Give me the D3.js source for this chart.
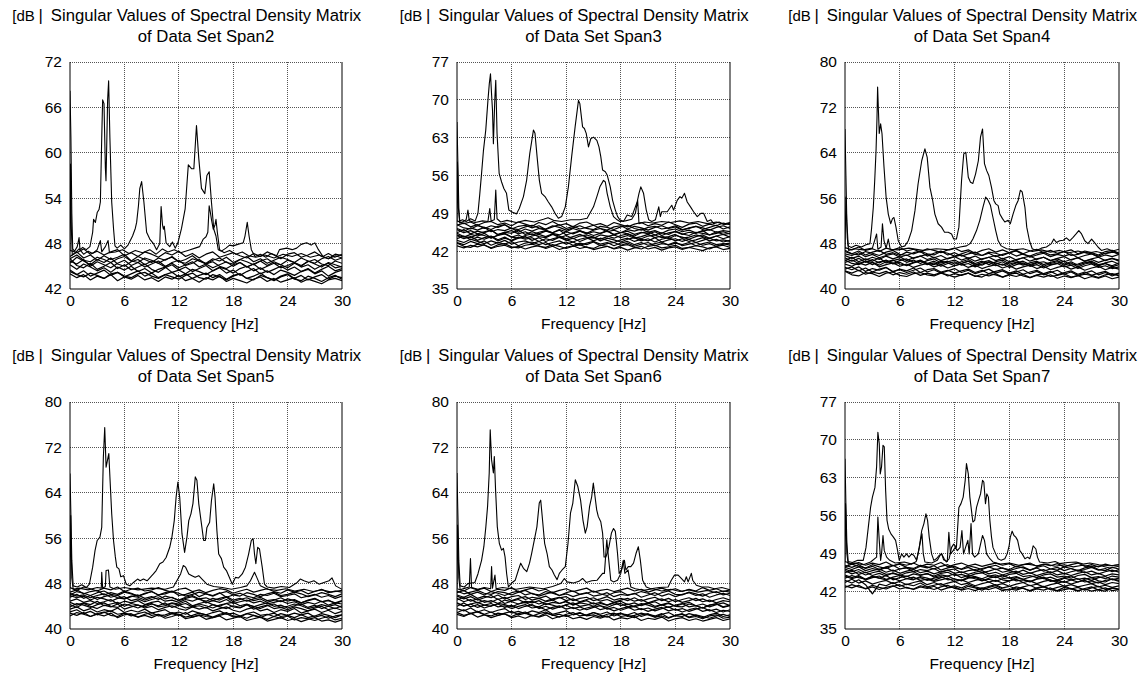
<!DOCTYPE html>
<html>
<head>
<meta charset="utf-8">
<script src="https://cdn.jsdelivr.net/npm/d3@7"></script>
<style>
  body { margin: 0; background: #fff; }
  svg text { font-family: Arial, "Liberation Sans", sans-serif; fill: #000; }
</style>
</head>
<body>
<svg id="chart" width="1148" height="677"></svg>
<script>
// ---- tick labels ----
var xTicks = [0, 6, 12, 18, 24, 30];
var span2YTicks = [42, 48, 54, 60, 66, 72];
var span3YTicks = [35, 42, 49, 56, 63, 70, 77];
var span4YTicks = [40, 48, 56, 64, 72, 80];
var span5YTicks = [40, 48, 56, 64, 72, 80];
var span6YTicks = [40, 48, 56, 64, 72, 80];
var span7YTicks = [35, 42, 49, 56, 63, 70, 77];

// frequencies of the lower singular values (Hz)
var noiseFreqs = [0,0.75,1.5,2.25,3,3.75,4.5,5.25,6,6.75,7.5,8.25,9,9.75,10.5,11.25,12,12.75,13.5,14.25,
  15,15.75,16.5,17.25,18,18.75,19.5,20.25,21,21.75,22.5,23.25,24,24.75,25.5,26.25,27,27.75,28.5,29.25,30];

// ---- Span2 ----
var span2Sv1 = [[0,68.2],[0.1,62],[0.2,52],[0.3,47.3],[0.5,47.0],[0.8,47.6],[1.0,48.8],[1.1,47.2],[1.4,47.5],[1.8,47.2],[2.2,47.6],[2.5,49.5],[2.6,51.2],[2.8,50.8],[3.0,52.1],[3.2,52.5],[3.35,53.5],[3.5,62],[3.6,67],[3.75,66.5],[3.9,58],[3.97,56.3],[4.05,61],[4.15,67],[4.26,69.5],[4.4,62],[4.6,53.5],[4.8,50],[4.96,47.7],[5.2,47.4],[5.6,47.8],[6.0,47.3],[6.4,47.8],[6.9,49],[7.2,50],[7.35,50.8],[7.55,53],[7.7,55.3],[7.9,56.2],[8.15,53.5],[8.45,49.5],[8.8,48.6],[9.2,48],[9.55,47.2],[9.9,48],[10.05,52.9],[10.2,50.5],[10.3,49.9],[10.4,50.3],[10.6,48.1],[11.0,47.6],[11.3,48.2],[11.6,47.4],[11.9,48.1],[12.3,50],[12.7,52.6],[13.05,58.4],[13.4,57.9],[13.66,57.9],[13.95,63.6],[14.2,59.3],[14.5,55.3],[14.87,54.6],[15.1,57],[15.35,57.5],[15.6,53.5],[15.86,49.9],[16.1,49],[16.35,47.2],[16.7,47],[17.2,47.4],[17.6,47.8],[18.0,47.7],[18.5,47.9],[19.1,48.1],[19.3,49],[19.55,50.8],[19.75,49],[20.0,47.2],[20.4,46.3],[21.0,46.6],[21.6,46.2],[22.2,46.7],[22.8,46.4],[23.1,47.2],[23.9,47.4],[24.5,47.2],[25.0,47.4],[25.5,47.9],[26.1,48.1],[26.6,47.8],[27.0,48.1],[27.4,47.2],[27.9,46.3],[28.5,46.7],[29.2,46.2],[30,46.6]];
var span2Sv2 = [[0,47],[0.05,58.5],[0.15,50],[0.25,46.5],[0.6,46.8],[1.0,47.3],[1.5,46.6],[2.0,47.0],[2.5,46.7],[3.0,47.2],[3.35,48.4],[3.5,46.9],[3.9,47.6],[4.2,48.4],[4.35,46.8],[5.0,46.9],[5.8,47.2],[6.5,46.7],[7.2,47.1],[8.0,46.8],[8.8,47.2],[9.5,46.6],[10.2,47.3],[10.8,46.9],[11.5,47.2],[12.2,46.8],[13.0,47.1],[13.8,47.4],[14.3,47.6],[14.7,48.6],[15.0,48.9],[15.2,49.5],[15.35,53],[15.5,52],[15.6,51.2],[15.8,49.9],[16.0,50.5],[16.1,51.2],[16.25,49.5],[16.5,47.2],[17.0,46.8],[17.6,47.1],[18.3,46.6],[19.0,46.9],[19.7,46.4],[20.5,46.2],[21.5,46.5],[22.5,46.1],[23.5,46.6],[24.5,46.3],[25.5,46.7],[26.5,46.2],[27.5,46.5],[28.5,46.0],[29.3,46.4],[30,46.1]];
var span2Noise = [
  [47.1,46.8,47.3,46.6,47.0,46.5,46.9,47.2,46.4,46.8,46.3,46.9,46.6,46.2,46.8,46.5,47.0,46.3,46.7,46.1,46.6,46.9,46.2,46.5,46.8,46.4,46.1,46.7,46.3,46.9,46.5,46.0,46.6,46.8,46.2,46.5,46.9,46.3,46.0,46.6,46.4],
  [46.3,46.9,46.1,46.5,45.8,46.4,45.9,46.2,46.6,45.7,46.3,45.9,45.5,46.1,45.8,46.3,45.6,45.9,46.4,45.7,45.4,46.0,45.7,46.2,45.5,45.9,46.3,45.6,46.0,45.4,45.8,46.2,45.9,45.5,46.1,45.7,45.4,46.0,46.3,45.8,46.1],
  [45.4,46.2,45.7,45.2,45.9,45.5,46.1,45.3,45.0,45.6,45.9,45.2,45.7,45.4,44.9,45.5,45.8,45.1,45.4,45.9,45.3,44.8,45.2,45.6,45.0,45.5,44.9,45.3,45.7,45.1,45.6,45.2,44.8,45.4,45.0,45.7,45.3,44.9,45.5,45.2,44.9],
  [46.0,45.1,44.8,45.4,44.6,45.0,45.5,44.7,45.2,44.5,44.9,45.3,44.6,44.2,44.8,45.2,44.5,44.9,44.3,44.7,45.1,44.4,44.9,44.6,44.1,44.7,45.0,44.4,44.8,44.2,44.6,45.0,44.5,44.9,44.3,44.7,44.1,44.6,45.0,44.4,44.7],
  [45.2,44.6,45.3,44.9,44.4,44.8,44.2,44.9,44.5,45.0,44.3,44.7,44.1,44.6,44.9,44.2,44.5,44.0,44.6,44.3,43.9,44.4,44.8,44.1,44.5,43.8,44.3,44.7,44.0,44.4,43.9,44.5,44.2,43.8,44.3,44.6,44.0,44.4,43.7,44.2,44.5],
  [44.5,43.9,44.4,43.7,44.1,44.5,43.8,44.2,43.6,44.0,44.4,43.7,44.1,43.5,43.9,44.2,43.6,44.0,43.4,43.8,44.1,43.5,43.9,43.3,43.8,44.0,43.4,43.7,44.1,43.5,43.2,43.7,44.0,43.4,43.8,43.2,43.6,43.9,43.3,43.7,43.5],
  [45.7,45.3,45.9,45.0,45.6,45.2,44.8,45.4,45.8,45.1,45.5,44.9,45.3,45.7,45.0,45.4,44.8,45.2,45.6,44.9,45.3,45.6,45.0,44.7,45.2,45.5,44.9,45.3,44.6,45.0,45.4,44.8,45.1,45.5,44.9,45.2,44.6,45.1,45.4,44.8,45.0],
  [44.0,43.5,43.9,43.2,43.7,43.4,43.9,43.1,43.6,43.3,43.8,43.2,43.5,43.0,43.6,43.3,43.8,43.1,43.4,42.9,43.5,43.2,43.7,43.0,43.4,43.1,42.8,43.3,43.6,43.0,43.4,42.9,43.2,43.5,42.9,43.3,43.0,42.7,43.2,43.4,43.1],
  [46.0,46.5,45.8,45.6,46.2,45.9,45.5,46.0,46.3,45.7,45.5,46.1,45.8,45.4,45.9,46.2,45.6,45.4,46.0,45.7,45.3,45.8,46.1,45.5,45.3,45.9,45.6,45.2,45.7,46.0,45.4,45.2,45.8,45.5,45.1,45.6,45.9,45.3,45.1,45.7,45.4],
  [44.3,43.9,43.6,44.1,43.8,43.4,44.0,44.2,43.7,43.5,44.0,44.2,43.7,43.4,43.9,43.6,43.3,43.8,44.1,43.5,43.3,43.9,43.6,43.2,43.7,44.0,43.4,43.2,43.8,43.5,43.1,43.6,43.9,43.3,43.1,43.7,43.4,43.0,43.5,43.8,43.3]
];

// ---- Span3 ----
var span3Sv1 = [[0,65.9],[0.1,58],[0.2,50],[0.3,47.6],[0.6,47.8],[1.0,47.5],[1.5,48.0],[2.0,47.6],[2.3,49],[2.5,52.5],[2.7,56.4],[2.9,60.5],[3.16,64.4],[3.4,69.9],[3.55,73],[3.68,74.8],[3.8,71],[3.9,68.1],[4.0,61.9],[4.15,69.9],[4.26,73.6],[4.4,63.8],[4.63,56.4],[4.9,54.8],[5.15,53.6],[5.44,52.7],[5.7,49.6],[6.1,49.2],[6.54,48.9],[6.84,49.9],[7.3,52.1],[7.65,55.1],[8.0,60.1],[8.4,64.4],[8.57,63.8],[8.8,59.5],[9.05,55.1],[9.3,52.7],[9.67,52.1],[10.04,51.1],[10.4,50.2],[10.77,49],[11.14,48.1],[11.5,48.4],[11.9,50.2],[12.24,53.9],[12.6,59.5],[12.98,65],[13.35,69.9],[13.5,69.3],[13.8,65],[14.0,64.7],[14.2,63.8],[14.45,61.3],[14.7,62.8],[15.0,63.1],[15.37,62.5],[15.6,61.3],[15.8,59.5],[16.0,57],[16.3,56.7],[16.5,56.1],[16.84,53.9],[17.1,51.4],[17.4,49.6],[17.65,48.4],[17.9,47.8],[18.3,47.5],[18.7,48.7],[19.2,48.4],[19.6,50.2],[19.8,51.1],[20.0,52.7],[20.2,53.9],[20.5,52.7],[20.8,49.6],[21.07,47.8],[21.4,47.5],[21.8,47.8],[22.17,50.2],[22.35,48.4],[22.5,49.3],[23.1,49.3],[23.6,50.5],[23.8,49.6],[24.2,51.4],[24.5,52.1],[24.7,51.8],[25.0,52.7],[25.3,51.1],[25.66,50.2],[26.0,49.3],[26.4,48.4],[26.8,49],[27.1,49],[27.5,47.5],[27.9,47.8],[28.2,47.1],[28.8,47.4],[29.4,46.9],[30,47.2]];
var span3Sv2 = [[0,47.5],[0.05,58.5],[0.15,50],[0.3,47.2],[0.7,47.5],[1.0,47.8],[1.2,49.6],[1.35,47.6],[2.0,47.3],[2.8,47.6],[3.4,47.5],[3.6,49.9],[3.75,47.6],[4.1,47.8],[4.26,53.3],[4.4,48],[4.8,47.4],[5.5,47.7],[6.5,47.3],[7.5,47.7],[8.5,47.4],[9.5,47.9],[10.0,48.2],[10.6,47.7],[11.5,47.5],[12.5,47.8],[13.5,47.8],[14.3,48.1],[15.0,50.2],[15.37,52.1],[15.7,53.9],[16.1,55.1],[16.3,54.8],[16.5,52.7],[16.84,50.2],[17.2,48.4],[17.6,47.8],[17.9,47.5],[18.5,47.6],[19.2,47.9],[19.6,49],[19.85,51.4],[20.0,47.1],[20.6,47.4],[21.5,47.2],[22.5,47.5],[23.5,47.3],[24.5,47.6],[25.5,47.2],[26.5,47.5],[27.5,47.1],[28.5,47.4],[29.3,47.0],[30,47.3]];
var span3Noise = [
  [47.6,47.1,47.4,46.8,47.3,47.5,46.9,47.2,46.7,47.4,47.0,46.6,47.3,46.9,47.5,46.8,47.1,46.5,47.2,47.4,46.8,47.1,46.6,47.3,46.9,46.5,47.0,47.3,46.7,47.1,46.8,47.4,46.9,46.4,47.0,47.2,46.6,47.0,46.7,47.2,46.9],
  [46.8,47.2,46.5,46.9,46.2,46.7,46.4,46.9,46.1,46.6,46.8,46.3,46.7,46.0,46.5,46.9,46.2,46.6,46.1,46.4,46.8,46.2,45.9,46.5,46.7,46.1,46.6,46.3,45.9,46.4,46.7,46.2,46.5,45.9,46.3,46.6,46.0,46.4,46.8,46.1,46.5],
  [46.2,45.7,46.3,45.9,46.4,45.6,46.0,45.8,46.3,45.5,46.1,45.7,46.2,45.9,45.4,46.0,45.6,46.2,45.8,45.3,45.9,46.2,45.6,45.9,45.4,46.0,45.7,46.1,45.5,45.8,45.3,45.9,46.1,45.6,45.9,45.4,45.7,46.0,45.5,45.8,45.6],
  [45.4,46.0,45.2,45.7,45.4,45.9,45.1,45.5,45.8,45.2,45.6,45.0,45.5,45.8,45.3,45.0,45.6,45.2,45.7,45.4,44.9,45.3,45.7,45.1,45.5,45.2,44.8,45.4,45.6,45.0,45.4,45.1,45.7,45.2,44.9,45.5,45.3,45.0,45.6,45.1,45.3],
  [45.0,44.6,45.1,44.8,45.3,44.5,44.9,45.2,44.6,45.0,44.4,44.8,45.1,44.7,45.2,44.5,44.9,44.3,44.8,45.0,44.6,44.2,44.7,45.0,44.5,44.9,44.4,44.7,45.1,44.5,44.8,44.3,44.9,44.6,44.2,44.7,45.0,44.4,44.8,44.3,44.7],
  [44.3,44.8,44.1,44.6,44.2,44.7,43.9,44.4,44.0,44.6,44.2,44.5,43.8,44.3,44.0,44.6,44.1,43.7,44.2,44.5,43.9,44.4,44.0,43.6,44.1,44.4,43.8,44.2,43.9,44.5,43.7,44.1,44.3,43.8,44.2,43.6,44.0,44.4,43.9,44.1,43.8],
  [46.0,45.4,45.8,45.2,45.6,45.9,45.0,45.5,45.3,45.9,45.1,45.6,45.2,45.7,45.4,45.9,45.0,45.4,45.7,45.2,45.6,45.3,45.8,45.0,45.4,45.7,45.1,45.5,45.2,45.6,44.9,45.4,45.6,45.1,45.5,45.3,45.8,45.0,45.3,45.6,45.2],
  [43.6,43.2,43.8,43.4,43.9,43.1,43.6,43.3,43.8,43.0,43.5,43.7,43.2,43.6,42.9,43.4,43.7,43.1,43.5,43.2,43.7,43.0,43.4,43.6,43.1,43.5,42.9,43.3,43.6,43.0,43.4,43.2,43.7,43.0,43.3,43.6,43.1,43.4,42.9,43.3,43.5],
  [43.0,42.6,43.1,42.8,43.2,42.5,42.9,43.1,42.6,42.9,42.4,42.8,43.0,42.5,42.9,42.3,42.7,43.0,42.5,42.8,42.3,42.6,42.9,42.4,42.7,42.2,42.6,42.9,42.4,42.7,42.2,42.6,42.8,42.3,42.7,42.4,42.1,42.6,42.8,42.3,42.5],
  [44.9,44.3,44.7,44.0,44.5,44.8,44.1,44.6,43.9,44.4,44.7,44.0,44.5,43.8,44.3,44.6,44.0,44.4,43.8,44.3,44.6,43.9,44.4,44.1,43.7,44.2,44.5,43.9,44.3,43.7,44.2,44.5,43.9,44.3,43.8,44.1,44.5,43.9,44.2,43.7,44.0],
  [44.0,43.6,44.2,43.8,43.4,43.9,43.5,44.0,43.3,43.7,43.9,43.4,43.8,43.2,43.6,43.9,43.3,43.7,43.1,43.5,43.8,43.3,43.6,43.0,43.5,43.8,43.2,43.6,43.1,43.4,43.7,43.1,43.5,43.2,43.6,43.0,43.4,43.7,43.2,43.4,43.1],
  [46.9,46.3,46.1,46.7,46.4,46.0,46.6,46.9,46.2,46.0,46.5,46.8,46.3,46.1,46.7,46.4,45.9,46.3,46.7,46.2,46.0,46.6,46.4,46.0,46.5,46.8,46.2,45.9,46.4,46.6,46.1,46.3,46.7,46.0,46.2,46.6,46.3,45.9,46.4,46.7,46.2],
  [45.3,44.7,44.5,45.1,44.9,44.4,45.0,45.3,44.6,44.4,44.9,45.2,44.7,44.5,45.1,44.8,44.3,44.7,45.1,44.6,44.4,45.0,44.8,44.4,44.9,45.2,44.6,44.3,44.8,45.0,44.5,44.7,45.1,44.4,44.6,45.0,44.7,44.3,44.8,45.1,44.6],
  [43.5,42.9,42.7,43.3,43.1,42.6,43.2,43.4,42.8,42.6,43.1,43.3,42.9,42.7,43.2,42.9,42.5,42.9,43.2,42.7,42.5,43.1,42.9,42.5,43.0,43.2,42.7,42.4,42.9,43.1,42.6,42.8,43.1,42.5,42.7,43.0,42.8,42.4,42.9,43.1,42.7]
];

// ---- Span4 ----
var span4Sv1 = [[0,68.2],[0.1,60],[0.2,52],[0.35,47.6],[0.7,47.3],[1.2,47.7],[1.8,47.4],[2.3,47.8],[2.73,48],[2.9,50.5],[3.1,54.4],[3.25,59],[3.4,64.4],[3.5,70],[3.57,75.6],[3.67,71],[3.75,67.4],[3.9,69.1],[4.05,67.4],[4.27,61.5],[4.5,56.2],[4.74,53.2],[5.0,51.5],[5.2,52.4],[5.36,52.6],[5.58,50.9],[5.83,48.5],[6.2,47.4],[6.56,47.6],[6.93,48.5],[7.3,50.3],[7.66,53.8],[8.0,58.5],[8.4,62.6],[8.75,64.7],[9.0,63.2],[9.3,57.9],[9.6,55.6],[9.84,53.2],[10.2,51.5],[10.57,50.9],[10.9,50],[11.3,50],[11.67,49.7],[11.9,48.8],[12.2,48.8],[12.47,50.9],[12.76,59.1],[13.0,63.8],[13.23,64.1],[13.5,59.7],[13.74,58.8],[14.0,58.6],[14.3,60.3],[14.6,62.6],[14.84,66.8],[15.06,68.2],[15.27,62.1],[15.5,60.9],[15.75,60],[16.04,57.9],[16.3,55.6],[16.5,55],[16.77,54.7],[16.95,53.2],[17.24,52.4],[17.5,51.8],[17.86,52.1],[18.1,51.5],[18.4,53.2],[18.7,54.7],[18.96,55.6],[19.2,57.4],[19.4,57.1],[19.7,54.4],[19.9,50.9],[20.2,48.5],[20.5,47.1],[20.96,46.8],[21.5,47.2],[22.05,47.4],[22.6,48],[22.86,48.8],[23.15,48.2],[23.5,48.5],[23.9,48.6],[24.24,49],[24.6,48.5],[24.97,49.1],[25.3,49.7],[25.6,50.3],[25.9,49.7],[26.25,48.5],[26.6,48],[27.0,48.8],[27.3,48.2],[27.7,47.4],[28.07,46.8],[28.7,47.1],[29.3,46.7],[30,47.0]];
var span4Sv2 = [[0,47],[0.1,56.2],[0.25,49],[0.4,46.8],[1.0,47.1],[2.0,46.9],[3.0,47.2],[3.46,49.7],[3.6,47.0],[3.95,47.4],[4.1,51.5],[4.27,48.5],[4.5,47.2],[4.74,48.8],[4.95,47.0],[5.8,46.9],[7.0,47.2],[8.5,46.8],[10.0,47.1],[11.5,46.9],[12.6,47.4],[13.3,47.6],[13.7,48],[14.0,48.8],[14.4,50.3],[14.76,52.1],[15.1,54.4],[15.4,56.2],[15.68,55.6],[15.93,54.7],[16.2,52.6],[16.5,50.3],[16.77,48.5],[17.1,47.6],[17.7,47.1],[18.5,46.9],[19.5,47.1],[20.5,46.6],[21.5,46.9],[22.5,46.5],[23.5,46.8],[24.5,46.4],[25.5,46.7],[26.5,46.3],[27.5,46.6],[28.5,46.2],[29.3,46.5],[30,46.3]];
var span4Noise = [
  [47.3,46.9,47.4,46.8,47.1,46.6,47.2,46.9,47.3,46.7,47.0,46.5,47.1,46.8,46.4,46.9,47.2,46.6,46.9,46.3,46.8,47.1,46.5,46.9,46.4,46.8,46.2,46.7,47.0,46.4,46.8,46.3,46.6,46.9,46.2,46.7,46.4,46.0,46.6,46.8,46.3],
  [46.6,46.2,46.7,46.0,46.5,46.8,46.1,46.4,45.9,46.5,46.2,46.6,45.8,46.3,46.7,46.0,46.4,45.8,46.2,46.5,45.9,46.3,45.7,46.1,46.4,45.8,46.2,45.6,46.0,46.3,45.7,46.1,45.8,46.2,45.5,45.9,46.2,45.6,46.0,45.7,46.1],
  [45.9,45.4,45.8,45.1,45.6,45.2,45.8,45.3,45.7,45.0,45.5,45.8,45.2,45.6,45.0,45.4,45.7,45.1,45.5,44.9,45.3,45.6,45.0,45.4,44.8,45.2,45.5,44.9,45.3,45.6,45.0,45.3,44.8,45.2,45.5,44.9,45.2,44.7,45.1,45.4,44.9],
  [45.0,45.6,44.8,45.3,44.9,45.5,44.6,45.0,45.3,44.7,45.1,44.5,45.0,45.3,44.6,44.9,44.4,44.8,45.2,44.5,44.9,44.3,44.8,45.1,44.4,44.7,44.2,44.6,44.9,44.3,44.7,45.0,44.4,44.8,44.2,44.6,44.9,44.3,44.5,44.1,44.6],
  [44.4,44.0,44.6,44.2,44.7,43.9,44.3,44.6,44.0,44.4,43.8,44.2,44.5,43.9,44.3,43.7,44.1,44.4,43.8,44.2,43.6,44.0,44.3,43.7,44.1,43.5,43.9,44.2,43.6,44.0,43.4,43.8,44.1,43.5,43.9,43.3,43.7,44.0,43.4,43.8,43.5],
  [43.8,43.4,43.9,43.1,43.6,43.3,43.8,43.0,43.5,43.2,43.7,42.9,43.4,43.6,43.0,43.3,42.8,43.2,43.5,42.9,43.3,42.7,43.1,43.4,42.8,43.2,42.6,43.0,43.3,42.7,43.1,42.5,42.9,43.2,42.6,43.0,42.4,42.8,43.1,42.5,42.8],
  [43.2,42.8,43.3,42.6,43.0,42.7,43.1,42.5,42.9,42.6,43.0,42.4,42.8,42.5,42.9,42.3,42.7,42.4,42.8,42.2,42.6,42.3,42.7,42.1,42.5,42.2,42.6,42.0,42.4,42.1,42.5,41.9,42.3,42.0,42.4,41.8,42.2,41.9,42.3,41.8,42.1],
  [46.2,45.9,46.4,45.7,46.1,45.5,45.9,46.2,45.6,46.0,45.4,45.8,46.1,45.5,45.9,45.3,45.7,46.0,45.4,45.8,45.2,45.6,45.9,45.3,45.7,45.1,45.5,45.8,45.2,45.6,45.0,45.4,45.7,45.1,45.5,44.9,45.3,45.6,45.0,45.4,45.1],
  [44.7,45.1,44.5,44.9,44.3,44.8,45.0,44.4,44.7,44.1,44.6,44.9,44.3,44.6,44.0,44.5,44.8,44.2,44.5,43.9,44.4,44.7,44.1,44.4,43.8,44.3,44.6,44.0,44.3,43.7,44.2,44.5,43.9,44.2,43.6,44.1,44.4,43.8,44.1,43.6,43.9],
  [43.5,43.9,43.2,43.7,43.0,43.5,43.8,43.1,43.4,42.9,43.3,43.7,43.0,43.4,42.8,43.2,43.6,42.9,43.3,42.7,43.1,43.5,42.8,43.2,42.6,43.0,43.4,42.7,43.1,42.5,42.9,43.3,42.6,43.0,42.4,42.8,43.2,42.5,42.9,42.3,42.7],
  [45.5,44.9,45.4,44.7,45.2,44.6,45.1,44.5,45.0,45.3,44.7,45.1,44.5,44.9,44.3,44.8,45.1,44.5,44.9,44.2,44.7,45.0,44.4,44.8,44.1,44.6,44.9,44.3,44.7,44.0,44.5,44.8,44.2,44.6,43.9,44.4,44.7,44.1,44.5,43.9,44.3],
  [46.8,46.2,46.0,46.6,46.3,45.9,46.5,46.8,46.1,45.9,46.4,46.7,46.2,46.0,46.6,46.3,45.8,46.2,46.6,46.1,45.9,46.5,46.3,45.9,46.4,46.7,46.1,45.8,46.3,46.5,46.0,46.2,46.6,45.9,46.1,46.5,46.2,45.8,46.3,46.6,46.1],
  [45.1,44.5,44.3,44.9,44.7,44.2,44.8,45.1,44.4,44.2,44.7,45.0,44.5,44.3,44.9,44.6,44.1,44.5,44.9,44.4,44.2,44.8,44.6,44.2,44.7,45.0,44.4,44.1,44.6,44.8,44.3,44.5,44.9,44.2,44.4,44.8,44.5,44.1,44.6,44.9,44.4],
  [43.1,42.5,42.3,42.9,42.7,42.2,42.8,43.0,42.4,42.2,42.7,42.9,42.5,42.3,42.8,42.5,42.1,42.5,42.8,42.3,42.1,42.7,42.5,42.1,42.6,42.8,42.3,42.0,42.5,42.7,42.2,42.4,42.7,42.1,42.3,42.6,42.4,42.0,42.5,42.7,42.3]
];

// ---- Span5 ----
var span5Sv1 = [[0,67.4],[0.1,60],[0.2,52],[0.35,47.6],[0.8,47.4],[1.3,47.8],[1.8,47.3],[2.14,47.9],[2.5,50.9],[2.76,53.8],[3.0,55.6],[3.3,56.2],[3.5,57.9],[3.68,70.3],[3.83,75.5],[3.98,68.5],[4.13,69.7],[4.28,70.9],[4.42,66.2],[4.6,60.3],[4.8,55.6],[5.0,52.7],[5.16,50.9],[5.4,50.6],[5.6,49.2],[5.9,49.4],[6.2,47.9],[6.6,47.6],[7.0,48.2],[7.45,48.8],[7.74,48.5],[8.1,48.8],[8.5,48.5],[8.85,49.1],[9.2,49.7],[9.5,50.3],[9.9,51.5],[10.25,51.8],[10.6,52.6],[11.0,54.4],[11.24,56.2],[11.5,59.1],[11.7,63.2],[11.9,65.9],[12.1,63.2],[12.35,56.8],[12.64,53.5],[12.9,56.2],[13.1,59.1],[13.34,60.3],[13.56,62.1],[13.82,66.8],[14.0,66.2],[14.2,62.1],[14.45,59.1],[14.74,55.6],[14.93,55.6],[15.1,57.9],[15.4,58.8],[15.6,62.6],[15.85,65.6],[16.0,63.2],[16.2,57.4],[16.4,53.2],[16.7,52.4],[16.95,50.9],[17.25,50.3],[17.5,49.4],[17.9,47.9],[18.25,49.1],[18.6,49],[19.0,49.7],[19.35,50.9],[19.7,53.2],[20.0,55.6],[20.2,55.9],[20.35,53.2],[20.5,51.5],[20.7,54.4],[20.9,54.1],[21.2,50.9],[21.45,47.9],[21.75,47.4],[22.5,47.2],[23.3,47.5],[24.2,47.3],[25.06,48.2],[25.4,48.8],[25.8,48.5],[26.35,48.2],[26.9,48.5],[27.46,47.9],[28.0,48.2],[28.57,48.5],[28.9,49],[29.3,47.6],[30,47]];
var span5Sv2 = [[0,47.2],[0.08,60],[0.2,49],[0.35,47.0],[1.0,47.2],[2.0,46.9],[3.0,47.3],[3.45,47.2],[3.5,50],[3.6,47.2],[3.9,47.5],[3.98,50.3],[4.24,50.4],[4.4,47.4],[5.0,47.0],[6.0,47.3],[7.5,46.9],[9.0,47.2],[10.5,47.0],[11.4,47.4],[12.2,49.7],[12.5,51.2],[12.75,50.9],[13.1,49.7],[13.45,49.4],[13.8,49.1],[14.2,49.4],[14.56,48.8],[15.1,47.9],[15.85,47.5],[16.8,47.3],[17.8,47.0],[18.8,47.3],[19.5,47.6],[19.9,48.5],[20.35,50],[20.6,49.1],[21.0,47.6],[21.8,47.0],[22.8,46.8],[23.8,47.1],[24.8,46.7],[25.8,47.0],[26.8,46.6],[27.8,46.9],[28.8,46.5],[30,46.8]];
var span5Noise = [
  [47.3,46.8,47.4,47.1,46.7,47.2,46.9,47.4,46.6,47.0,47.2,46.7,46.9,47.3,46.8,46.5,47.0,47.2,46.6,46.9,46.4,46.8,47.1,46.9,46.3,46.7,47.0,46.5,46.8,47.1,46.6,46.3,46.9,46.5,46.8,46.2,46.6,47.0,46.4,46.7,46.5],
  [46.5,46.9,46.2,46.6,46.8,46.0,46.4,46.1,46.7,46.3,45.8,46.2,46.6,46.0,46.4,46.7,45.9,46.1,46.5,45.7,46.2,45.9,46.4,45.6,46.0,46.3,45.8,45.5,46.1,45.9,46.3,45.7,45.9,46.2,45.5,45.8,46.1,45.6,45.9,45.4,45.8],
  [45.6,46.1,45.4,45.9,45.2,45.7,46.0,45.5,45.3,45.8,45.6,45.1,45.5,45.9,45.3,45.6,45.0,45.4,45.7,45.2,44.9,45.4,45.1,45.6,44.8,45.2,45.5,45.0,45.3,44.7,45.1,45.5,44.9,45.2,44.6,45.0,45.3,44.8,45.1,44.5,44.9],
  [44.9,45.3,44.7,45.0,44.5,44.8,45.2,44.4,44.9,44.6,45.0,44.3,44.7,44.9,44.2,44.6,44.4,44.9,44.1,44.5,44.8,44.3,44.0,44.5,44.7,44.1,44.4,43.9,44.3,44.6,44.0,44.2,43.7,44.1,44.4,43.8,44.2,43.6,44.0,44.3,43.8],
  [44.3,43.8,44.5,44.0,43.6,44.2,43.9,44.4,43.5,43.9,44.2,43.7,44.0,43.4,43.8,44.1,43.6,43.3,43.9,43.5,43.8,43.2,43.6,43.9,43.3,43.0,43.5,43.8,43.2,43.5,42.9,43.4,43.1,43.6,42.8,43.2,43.5,42.9,43.3,42.7,43.1],
  [43.5,43.9,43.2,43.6,43.0,43.4,43.1,43.7,42.9,43.3,43.0,43.5,42.8,43.1,43.4,42.7,43.0,42.6,43.2,42.8,42.5,42.9,43.2,42.6,42.8,42.3,42.7,43.0,42.4,42.6,42.2,42.7,42.4,42.0,42.5,42.8,42.1,42.4,41.9,42.3,42.5],
  [42.8,42.4,42.9,42.2,42.6,42.3,42.8,42.0,42.5,42.7,42.1,42.4,42.0,42.5,41.9,42.2,42.6,41.8,42.1,42.4,41.7,42.0,42.3,41.6,41.9,42.2,41.5,41.8,42.1,41.4,41.7,42.0,41.5,41.8,41.3,41.7,42.0,41.4,41.6,41.2,41.6],
  [45.9,45.5,45.8,45.1,45.6,45.3,44.9,45.4,45.7,45.0,45.3,44.8,45.2,45.5,44.9,45.1,44.7,45.2,44.9,45.4,44.6,45.0,44.7,45.2,44.5,44.8,45.1,44.6,44.9,44.4,44.7,45.0,44.5,44.8,44.3,44.7,44.4,44.9,44.2,44.6,44.4],
  [44.7,44.2,44.6,44.3,44.9,44.1,44.4,44.7,44.0,44.5,44.2,43.9,44.4,44.1,44.6,43.8,44.2,44.5,43.9,44.1,43.7,44.3,43.9,43.6,44.1,43.8,44.3,43.5,43.9,44.2,43.6,43.8,43.4,43.9,43.6,43.2,43.7,44.0,43.4,43.7,43.3],
  [46.3,45.8,46.0,45.5,45.9,46.2,45.6,45.9,45.3,45.7,46.0,45.4,45.7,45.2,45.8,45.5,45.1,45.6,45.9,45.3,45.5,45.0,45.4,45.7,45.1,45.4,44.9,45.3,45.6,45.0,45.2,44.8,45.3,45.0,44.6,45.1,45.4,44.8,45.0,44.6,45.0],
  [43.0,43.4,42.7,43.1,42.5,42.9,43.2,42.6,42.8,42.3,42.7,43.0,42.4,42.6,42.2,42.7,42.4,42.9,42.1,42.5,42.2,42.0,42.4,42.7,42.1,42.3,41.9,42.4,42.1,41.7,42.2,41.9,42.3,41.6,42.0,41.8,41.5,41.9,42.2,41.6,41.9],
  [46.0,46.6,46.3,45.9,46.4,46.7,46.1,45.9,46.5,46.2,45.8,46.3,46.6,46.0,46.2,46.6,46.3,45.8,46.1,46.5,46.2,45.8,46.3,46.6,46.0,45.8,46.4,46.1,45.7,46.2,46.5,45.9,46.1,46.5,46.2,45.7,46.0,46.4,46.1,45.7,46.2],
  [43.9,44.5,44.2,43.8,44.3,44.6,44.0,43.8,44.4,44.1,43.7,44.2,44.5,43.9,44.1,44.5,44.2,43.7,44.0,44.4,44.1,43.7,44.2,44.5,43.9,43.7,44.3,44.0,43.6,44.1,44.4,43.8,44.0,44.4,44.1,43.6,43.9,44.3,44.0,43.6,44.1],
  [42.3,42.9,42.6,42.2,42.7,43.0,42.4,42.2,42.8,42.5,42.1,42.6,42.9,42.3,42.5,42.9,42.6,42.1,42.4,42.8,42.5,42.1,42.6,42.9,42.3,42.1,42.7,42.4,42.0,42.5,42.8,42.2,42.4,42.8,42.5,42.0,42.3,42.7,42.4,42.0,42.5]
];

// ---- Span6 ----
var span6Sv1 = [[0,67.5],[0.1,60],[0.2,52],[0.35,47.6],[0.8,47.4],[1.2,48.0],[1.96,48.2],[2.3,49.7],[2.7,52.1],[2.95,54.5],[3.17,58],[3.36,61.6],[3.54,67.5],[3.65,75.1],[3.8,69.8],[4.0,67.5],[4.1,70.4],[4.24,64.5],[4.43,58],[4.65,55.1],[4.9,53.9],[5.1,54.2],[5.28,52.7],[5.46,49.7],[5.65,47.4],[6.0,48.1],[6.4,48.6],[6.75,50.4],[7.0,51.6],[7.3,50.7],[7.67,50.1],[7.97,51.6],[8.2,53.3],[8.5,55.7],[8.78,58],[9.04,62.2],[9.2,62.7],[9.4,59.2],[9.63,55.1],[9.9,53.3],[10.15,51],[10.44,50.4],[10.7,49.5],[11.0,48.7],[11.25,49.8],[11.55,50.4],[11.9,51],[12.2,55.1],[12.47,60.4],[12.73,62.2],[13.0,66.3],[13.28,65.1],[13.58,62.7],[13.84,59.2],[14.1,56.9],[14.3,58],[14.57,61.6],[14.8,63.3],[14.98,65.7],[15.17,63.3],[15.35,61],[15.53,59.8],[15.8,58.9],[16.0,56.9],[16.16,52.7],[16.35,52.7],[16.5,53.3],[16.7,54.5],[16.97,56.9],[17.2,57.7],[17.4,57.2],[17.64,53.3],[17.82,49.8],[18.08,50.4],[18.4,52.1],[18.56,50.4],[18.82,51],[19.1,51],[19.4,51.6],[19.67,53.3],[19.93,54.5],[20.15,52.1],[20.4,48.6],[20.8,47.4],[21.3,47.1],[22.2,47.3],[23.2,47.4],[23.55,48.6],[23.9,49.5],[24.3,49.5],[24.65,48.9],[25.0,48.3],[25.2,49.2],[25.4,48.3],[25.75,49.8],[25.9,48.6],[26.3,47.7],[26.9,47.4],[27.6,47.4],[28.3,47.1],[29.1,47.3],[30,46.9]];
var span6Sv2 = [[0,47.2],[0.06,58.3],[0.2,49],[0.35,46.9],[0.9,47.2],[1.35,47.4],[1.48,52.4],[1.6,47.3],[2.3,47.0],[3.0,47.3],[3.7,47.1],[3.8,51],[3.9,47.2],[4.17,49.5],[4.3,47.1],[5.0,47.3],[6.5,47.0],[8.0,47.4],[9.5,47.1],[10.5,47.5],[11.4,48],[11.8,48.9],[12.1,48.3],[12.8,48.1],[13.4,48.4],[13.8,48.9],[14.2,48.2],[14.8,48.5],[15.4,48.6],[16.0,49.8],[16.2,49.8],[16.46,55.7],[16.64,52.7],[16.9,48.6],[17.2,48.3],[17.64,48.6],[18.0,49.8],[18.27,52.1],[18.45,49.8],[18.8,50.4],[19.1,47.4],[19.6,47.1],[20.5,46.8],[21.5,47.1],[22.5,46.7],[23.5,47.0],[24.5,46.6],[25.5,46.9],[26.5,46.5],[27.5,46.8],[28.5,46.4],[29.3,46.7],[30,46.5]];
var span6Noise = [
  [47.1,46.7,47.3,46.9,47.2,46.6,47.0,46.8,47.3,46.5,46.9,47.2,46.7,47.0,46.4,46.8,47.1,46.6,46.9,47.2,46.5,46.8,47.0,46.6,46.9,47.2,46.7,47.0,46.5,46.9,47.2,46.8,47.1,46.6,47.0,46.7,47.3,46.8,47.1,46.6,46.9],
  [46.4,46.8,46.1,46.5,46.0,46.6,46.3,45.9,46.4,46.7,46.0,46.3,45.8,46.2,46.5,45.9,46.2,45.7,46.1,46.4,45.8,46.0,46.4,45.7,46.1,45.9,46.3,45.6,46.0,46.4,45.8,46.2,45.7,46.1,46.4,45.9,46.2,45.6,46.0,46.3,45.9],
  [45.8,45.3,45.7,45.1,45.5,45.9,45.2,45.6,45.0,45.4,45.7,45.1,45.4,44.9,45.3,45.6,45.0,45.3,44.8,45.2,45.5,44.9,45.2,44.7,45.1,45.4,44.9,45.2,44.6,45.0,45.3,44.8,45.2,44.7,45.0,45.4,44.8,45.1,44.6,45.0,44.8],
  [45.1,45.6,44.9,45.3,44.7,45.0,44.5,45.1,44.8,44.4,44.9,44.6,45.0,44.3,44.7,44.5,44.9,44.2,44.6,44.4,44.0,44.5,44.2,44.7,44.1,44.4,43.9,44.3,44.6,44.0,44.3,43.8,44.2,44.5,43.9,44.1,43.7,44.2,44.4,43.8,44.1],
  [44.5,44.0,44.4,43.8,44.2,44.5,43.9,44.1,43.6,44.0,44.3,43.7,43.9,43.4,43.8,44.1,43.5,43.8,43.3,43.7,44.0,43.4,43.7,43.2,43.6,43.9,43.3,43.6,43.1,43.5,43.8,43.2,43.5,43.0,43.4,43.7,43.1,43.4,42.9,43.3,43.1],
  [43.6,43.2,43.7,43.0,43.4,42.9,43.3,43.6,42.8,43.1,42.7,43.2,42.9,43.4,42.6,42.9,43.2,42.5,42.8,42.4,42.9,42.6,43.0,42.3,42.7,42.5,42.9,42.2,42.6,42.3,42.7,42.0,42.4,42.7,42.1,42.5,42.2,41.9,42.3,42.6,42.2],
  [42.6,42.2,42.8,42.1,42.5,42.0,42.4,42.7,42.0,42.3,41.9,42.4,42.1,42.5,41.8,42.2,42.4,41.8,42.1,41.7,42.2,41.9,42.3,41.6,42.0,41.8,42.2,41.5,41.9,41.7,42.1,41.4,41.8,42.0,41.5,41.8,41.4,41.7,42.0,41.5,41.8],
  [46.0,45.6,46.1,45.4,45.8,45.5,46.0,45.3,45.7,45.9,45.2,45.6,45.4,45.8,45.1,45.5,45.7,45.0,45.4,45.6,45.0,45.3,45.7,45.1,45.4,45.0,45.5,44.9,45.3,45.6,45.0,45.4,44.8,45.2,45.5,45.0,45.3,44.8,45.2,45.5,45.1],
  [44.0,44.6,43.9,44.3,43.7,44.1,44.4,43.8,44.2,43.6,44.0,44.3,43.6,44.0,43.5,43.9,44.2,43.6,43.9,43.4,43.8,44.1,43.5,43.8,43.3,43.7,44.0,43.4,43.7,43.2,43.6,43.9,43.3,43.6,43.1,43.5,43.8,43.2,43.5,43.0,43.4],
  [42.9,43.4,42.7,43.1,42.6,43.0,42.4,42.8,43.1,42.5,42.8,42.3,42.7,43.0,42.4,42.6,42.2,42.6,42.9,42.3,42.5,42.1,42.6,42.8,42.2,42.4,42.0,42.5,42.7,42.1,42.3,41.9,42.4,42.6,42.0,42.2,41.8,42.3,42.5,41.9,42.1],
  [45.4,44.8,45.2,44.6,45.0,44.7,45.3,44.5,44.9,45.2,44.6,44.9,44.4,44.8,45.1,44.5,44.8,44.3,44.7,45.0,44.4,44.7,44.2,44.6,44.9,44.3,44.6,44.1,44.5,44.8,44.2,44.5,44.0,44.4,44.7,44.1,44.4,43.9,44.3,44.6,44.1],
  [46.7,46.2,46.5,46.8,46.3,46.1,46.6,46.4,46.0,46.5,46.8,46.2,46.0,46.6,46.3,45.9,46.4,46.7,46.1,46.3,46.7,46.2,45.9,46.4,46.6,46.0,46.2,46.6,46.3,45.9,46.4,46.7,46.1,46.0,46.5,46.2,45.8,46.3,46.6,46.0,46.3],
  [44.6,44.1,44.4,44.7,44.2,44.0,44.5,44.3,43.9,44.4,44.7,44.1,43.9,44.5,44.2,43.8,44.3,44.6,44.0,44.2,44.6,44.1,43.8,44.3,44.5,43.9,44.1,44.5,44.2,43.8,44.3,44.6,44.0,43.9,44.4,44.1,43.7,44.2,44.5,43.9,44.2],
  [42.9,42.4,42.7,43.0,42.5,42.3,42.8,42.6,42.2,42.7,43.0,42.4,42.2,42.8,42.5,42.1,42.6,42.9,42.3,42.5,42.9,42.4,42.1,42.6,42.8,42.2,42.4,42.8,42.5,42.1,42.6,42.9,42.3,42.2,42.7,42.4,42.0,42.5,42.8,42.2,42.5]
];

// ---- Span7 ----
var span7Sv1 = [[0,66.5],[0.1,58],[0.2,51],[0.35,47.5],[0.8,47.3],[1.4,47.7],[2.0,47.7],[2.3,50.1],[2.55,53.8],[2.8,57.5],[3.0,59.4],[3.28,61.2],[3.46,65],[3.6,71.4],[3.75,69.3],[3.86,63.7],[4.0,65],[4.16,69],[4.3,68.7],[4.45,60.6],[4.6,55.1],[4.78,53.5],[5.03,52.6],[5.3,52],[5.54,51.4],[5.76,49.5],[5.94,47.7],[6.2,48.9],[6.45,48.3],[6.74,48.9],[7.0,48.3],[7.3,48.9],[7.55,48.6],[7.84,47.7],[8.13,50.1],[8.4,53.2],[8.64,54.5],[8.86,56.3],[9.04,55.1],[9.22,52],[9.48,48.9],[9.73,47.7],[10.0,48],[10.3,48.6],[10.57,48.9],[10.86,48],[11.1,47.4],[11.4,48],[11.67,50.1],[11.9,50.7],[12.2,50.1],[12.47,57.5],[12.7,58.2],[12.94,59.4],[13.16,62.5],[13.3,65.6],[13.5,63.7],[13.67,59.4],[13.85,56.9],[14.0,54.8],[14.2,55.1],[14.4,57.5],[14.62,58.8],[14.84,60],[15.06,62.5],[15.2,62.2],[15.38,58.2],[15.53,60],[15.7,59.4],[15.86,55.1],[16.04,52],[16.2,50.1],[16.5,48.9],[16.77,48],[17.1,47.7],[17.5,48],[17.75,48.9],[17.97,50.4],[18.1,52],[18.3,53.1],[18.5,52.3],[18.7,52],[18.9,51.4],[19.14,49.5],[19.4,48.9],[19.7,48],[20.0,48.3],[20.23,48],[20.4,48.9],[20.6,50.4],[20.9,49.8],[21.07,48.3],[21.3,47.4],[22.2,47.2],[23.0,47.5],[23.5,47.1],[24.4,47.3],[25.3,47.4],[26.1,47.0],[26.8,47.2],[27.8,46.9],[29,46.7],[30,46.9]];
var span7Sv2 = [[0,47.3],[0.06,58.2],[0.2,49],[0.35,47.0],[1.0,47.2],[2.0,46.9],[2.8,47.4],[3.46,48.3],[3.6,55.7],[3.75,51.4],[3.9,47.7],[4.0,48.9],[4.16,52.3],[4.3,49.5],[4.56,48.3],[4.9,47.7],[5.5,47.2],[6.5,47.4],[7.3,47.0],[7.8,47.5],[8.0,48.9],[8.28,51.4],[8.43,52.6],[8.57,48.9],[8.75,47.4],[9.5,47.2],[10.1,47.7],[10.4,48.6],[10.57,49],[10.8,47.8],[11.2,47.5],[11.37,52.9],[11.55,48.9],[11.84,49.5],[12.07,50.1],[12.3,49.5],[12.6,50.1],[12.8,53.2],[12.98,48.9],[13.2,50.1],[13.45,51.4],[13.6,48.9],[13.8,54.5],[13.96,48.9],[14.2,48.3],[14.6,48.9],[14.84,50.7],[15.06,52.3],[15.27,51.4],[15.5,48.9],[15.86,48],[16.2,47.4],[17.0,47.0],[18.0,47.2],[19.0,46.8],[20.0,47.0],[21.0,46.7],[22.0,47.0],[23.0,46.6],[24.0,46.9],[25.0,46.5],[26.0,46.8],[27.0,46.4],[28.0,46.7],[29.0,46.3],[30,46.6]];
var span7Noise = [
  [47.5,47.0,47.3,46.8,47.2,46.9,47.4,46.7,47.1,46.8,47.2,46.6,47.0,46.8,47.3,46.5,46.9,47.2,46.7,47.0,46.6,46.9,47.2,46.8,47.1,46.5,46.9,47.2,46.6,47.0,46.7,47.1,46.5,46.9,47.2,46.6,46.9,46.5,47.0,46.7,46.9],
  [46.8,46.4,46.9,46.2,46.6,46.0,46.5,46.8,46.1,46.4,46.0,46.6,46.3,46.7,45.9,46.3,46.6,46.0,46.4,45.8,46.2,46.5,46.0,46.3,45.8,46.2,46.5,45.9,46.3,45.7,46.1,46.4,45.8,46.2,45.7,46.0,46.4,45.9,46.2,45.6,46.0],
  [46.1,45.6,46.0,45.4,45.8,46.1,45.5,45.9,45.3,45.7,46.0,45.4,45.7,45.2,45.6,45.9,45.3,45.6,45.1,45.5,45.8,45.2,45.5,45.0,45.4,45.7,45.1,45.4,44.9,45.3,45.6,45.0,45.3,44.9,45.3,45.6,45.0,45.3,44.8,45.2,45.0],
  [45.4,45.9,45.1,45.5,44.9,45.3,44.8,45.4,45.0,44.7,45.2,44.9,45.3,44.6,45.0,44.8,45.2,44.5,44.9,44.7,44.3,44.8,44.5,45.0,44.4,44.7,44.2,44.6,44.9,44.3,44.6,44.1,44.5,44.8,44.2,44.4,44.0,44.5,44.7,44.1,44.4],
  [44.8,44.3,44.7,44.1,44.5,44.8,44.2,44.4,43.9,44.3,44.6,44.0,44.2,43.8,44.1,44.4,43.8,44.1,43.6,44.0,44.3,43.7,44.0,43.5,43.9,44.2,43.6,43.9,43.4,43.8,44.1,43.5,43.8,43.3,43.7,44.0,43.4,43.7,43.2,43.6,43.4],
  [44.0,43.5,44.1,43.2,41.5,43.3,43.0,43.6,42.9,43.3,43.0,43.5,42.8,43.1,43.4,42.7,43.0,42.6,43.2,42.8,42.5,42.9,43.2,42.6,42.9,42.4,42.8,43.1,42.5,42.8,42.3,42.7,43.0,42.4,42.7,42.2,42.6,42.9,42.3,42.6,42.4],
  [43.0,42.6,43.1,42.4,42.8,42.3,42.7,43.0,42.4,42.7,42.3,42.8,42.5,42.9,42.2,42.6,42.8,42.2,42.5,42.1,42.6,42.3,42.7,42.1,42.4,42.2,42.6,42.0,42.4,42.2,42.6,42.0,42.3,42.5,42.1,42.4,42.0,42.3,42.6,42.1,42.3],
  [46.4,46.0,46.5,45.8,46.2,45.9,46.4,45.7,46.1,46.3,45.6,46.0,45.8,46.2,45.5,45.9,46.1,45.4,45.8,46.0,45.4,45.7,46.1,45.5,45.8,45.4,45.9,45.3,45.7,46.0,45.4,45.8,45.2,45.6,45.9,45.4,45.7,45.2,45.6,45.9,45.5],
  [43.6,44.2,43.5,43.9,43.3,43.7,44.0,43.4,43.8,43.2,43.6,43.9,43.2,43.6,43.1,43.5,43.8,43.2,43.5,43.0,43.4,43.7,43.1,43.4,42.9,43.3,43.6,43.0,43.3,42.8,43.2,43.5,42.9,43.2,42.8,43.1,43.4,42.8,43.1,42.7,43.0],
  [45.0,44.5,44.9,44.2,44.7,44.4,44.9,44.1,44.5,44.8,44.2,44.5,44.0,44.4,44.7,44.1,44.3,43.9,44.4,44.6,44.0,44.2,43.8,44.3,44.5,43.9,44.1,43.7,44.2,44.4,43.8,44.0,43.6,44.1,44.3,43.7,43.9,43.5,44.0,44.2,43.8],
  [45.8,45.2,45.6,45.0,45.4,45.7,45.1,45.3,44.9,45.4,45.6,45.0,45.2,44.8,45.3,45.5,44.9,45.1,44.7,45.2,45.4,44.8,45.0,44.6,45.1,45.3,44.7,44.9,44.5,45.0,45.2,44.6,44.8,44.4,44.9,45.1,44.5,44.7,44.3,44.8,44.6],
  [46.5,47.0,46.6,46.3,46.9,46.5,46.2,46.7,47.0,46.4,46.2,46.8,46.5,46.1,46.6,46.9,46.3,46.1,46.7,46.4,46.0,46.5,46.8,46.2,46.0,46.6,46.3,45.9,46.4,46.7,46.1,45.9,46.5,46.2,45.8,46.3,46.6,46.0,45.8,46.4,46.1],
  [44.4,44.9,44.5,44.2,44.8,44.4,44.1,44.6,44.9,44.3,44.1,44.7,44.4,44.0,44.5,44.8,44.2,44.0,44.6,44.3,43.9,44.4,44.7,44.1,43.9,44.5,44.2,43.8,44.3,44.6,44.0,43.8,44.4,44.1,43.7,44.2,44.5,43.9,43.7,44.3,44.0],
  [42.7,43.2,42.8,42.5,43.1,42.7,42.4,42.9,43.2,42.6,42.4,43.0,42.7,42.3,42.8,43.1,42.5,42.3,42.9,42.6,42.2,42.7,43.0,42.4,42.2,42.8,42.5,42.1,42.6,42.9,42.3,42.1,42.7,42.4,42.0,42.5,42.8,42.2,42.0,42.6,42.3]
];

var panels = [
  {name: 'Span2', yTicks: span2YTicks, sv1: span2Sv1, sv2: span2Sv2, noise: span2Noise},
  {name: 'Span3', yTicks: span3YTicks, sv1: span3Sv1, sv2: span3Sv2, noise: span3Noise},
  {name: 'Span4', yTicks: span4YTicks, sv1: span4Sv1, sv2: span4Sv2, noise: span4Noise},
  {name: 'Span5', yTicks: span5YTicks, sv1: span5Sv1, sv2: span5Sv2, noise: span5Noise},
  {name: 'Span6', yTicks: span6YTicks, sv1: span6Sv1, sv2: span6Sv2, noise: span6Noise},
  {name: 'Span7', yTicks: span7YTicks, sv1: span7Sv1, sv2: span7Sv2, noise: span7Noise}
];

// panel placement in the 3 x 2 grid
var colLeft = [70, 457, 845],
    colWidth = [272, 273, 274],
    rowTop = [62, 402],
    plotHeight = 227;

var svg = d3.select("#chart");

function drawPanel(p, i) {
  var left = colLeft[i % 3],
      width = colWidth[i % 3],
      top = rowTop[Math.floor(i / 3)],
      height = plotHeight;

  var g = svg.append("g")
    .attr("transform", "translate(" + left + "," + top + ")");

  var x = d3.scaleLinear().domain([0, 30]).range([0, width]);
  var y = d3.scaleLinear()
    .domain([p.yTicks[0], p.yTicks[p.yTicks.length - 1]])
    .range([height, 0]);

  // title, two lines
  var t1 = g.append("text")
    .attr("x", width / 2)
    .attr("y", -41.5)
    .style("text-anchor", "middle")
    .style("font-size", "16.7px")
    .text("Singular Values of Spectral Density Matrix");
  var start = t1.node().getBBox().x;
  g.append("text")
    .attr("x", start - 8)
    .attr("y", -41.5)
    .style("text-anchor", "end")
    .style("font-size", "16.7px")
    .text("|");
  g.append("text")
    .attr("x", start - 16)
    .attr("y", -41.5)
    .style("text-anchor", "end")
    .style("font-size", "15px")
    .text("[dB");
  g.append("text")
    .attr("x", width / 2)
    .attr("y", -20.5)
    .style("text-anchor", "middle")
    .style("font-size", "16.7px")
    .text("of Data Set " + p.name);

  // grid lines
  g.append("g")
    .attr("class", "grid")
    .selectAll("line.h")
    .data(p.yTicks.slice(1))
    .enter().append("line")
      .attr("x1", 0).attr("x2", width)
      .attr("y1", function(d) { return y(d); })
      .attr("y2", function(d) { return y(d); });
  g.select(".grid")
    .selectAll("line.v")
    .data(xTicks.slice(1, -1))
    .enter().append("line")
      .attr("class", "v")
      .attr("y1", 0).attr("y2", height)
      .attr("x1", function(d) { return x(d); })
      .attr("x2", function(d) { return x(d); });
  g.selectAll(".grid line")
    .style("stroke", "#555")
    .style("stroke-width", 1)
    .style("stroke-dasharray", "1,1")
    .attr("shape-rendering", "crispEdges");

  // clip curves to the plot box
  var clipId = "clip" + i;
  g.append("clipPath").attr("id", clipId)
    .append("rect").attr("width", width).attr("height", height);

  var line = d3.line()
    .x(function(d) { return x(d[0]); })
    .y(function(d) { return y(d[1]); });

  var curves = g.append("g").attr("clip-path", "url(#" + clipId + ")");

  var noiseLines = p.noise.map(function(vals) {
    return vals.map(function(v, k) { return [noiseFreqs[k], v]; })
      .filter(function(d) { return d[0] !== undefined; });
  });

  curves.selectAll("path.noise")
    .data(noiseLines)
    .enter().append("path")
      .attr("class", "noise")
      .attr("d", line)
      .style("stroke-width", 1.2);
  curves.append("path").datum(p.sv2).attr("d", line).style("stroke-width", 1.1);
  curves.append("path").datum(p.sv1).attr("d", line).style("stroke-width", 1.1);
  curves.selectAll("path")
    .style("fill", "none")
    .style("stroke", "#000")
    .style("stroke-linejoin", "round");

  // axes: left, bottom and right frame lines, no tick marks
  var yAxis = g.append("g")
    .call(d3.axisLeft(y).tickValues(p.yTicks).tickSize(0).tickPadding(8));
  var xAxis = g.append("g")
    .attr("transform", "translate(0," + height + ")")
    .call(d3.axisBottom(x).tickValues(xTicks).tickSize(0).tickPadding(6));
  g.append("line")
    .attr("x1", width).attr("x2", width)
    .attr("y1", 0).attr("y2", height)
    .style("stroke", "#000");

  yAxis.select(".domain").attr("d", "M0,0V" + height).style("stroke", "#000");
  xAxis.select(".domain").attr("d", "M0,0H" + width).style("stroke", "#000");
  svg.selectAll(".tick text")
    .style("font-size", "15.5px")
    .style("font-family", "Arial, 'Liberation Sans', sans-serif");

  g.append("text")
    .attr("x", width / 2)
    .attr("y", height + 40)
    .style("text-anchor", "middle")
    .style("font-size", "15.5px")
    .text("Frequency [Hz]");
}

panels.forEach(drawPanel);
</script>
</body>
</html>
